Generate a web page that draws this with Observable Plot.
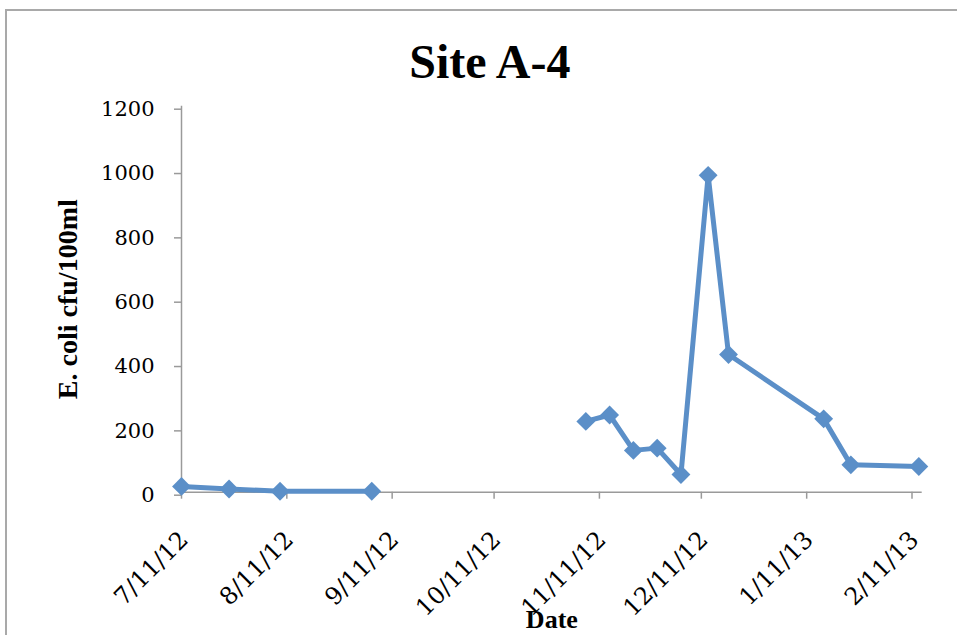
<!DOCTYPE html>
<html><head><meta charset="utf-8">
<script src="https://cdn.jsdelivr.net/npm/d3@7"></script>
<script src="https://cdn.jsdelivr.net/npm/@observablehq/plot@0.6"></script>
<style>
body{margin:0;background:#fff;}
#wrap{position:relative;width:957px;height:635px;overflow:hidden;background:#fff;}
#wrap svg{position:absolute;left:0;top:0;}
#frame{position:absolute;left:5px;top:9px;width:1000px;height:700px;border:2px solid #a9a9a9;box-sizing:border-box;pointer-events:none;}
</style></head><body><div id="wrap"></div>
<script>
// Sample dates and E. coli counts (null = no sample, line is broken)
const dates = ["2012-07-11","2012-07-25","2012-08-09","2012-09-05","2012-10-10","2012-11-07","2012-11-14","2012-11-21","2012-11-28","2012-12-05","2012-12-13","2012-12-19","2013-01-16","2013-01-24","2013-02-13"];
const values = [18, 10, 3, 3, null, 220, 240, 130, 137, 55, 985, 428, 228, 85, 80];
const tickDates = ["2012-07-11","2012-08-11","2012-09-11","2012-10-11","2012-11-11","2012-12-11","2013-01-11","2013-02-11"];
const tickLabels = ["7/11/12","8/11/12","9/11/12","10/11/12","11/11/12","12/11/12","1/11/13","2/11/13"];
const yTicks = [0, 200, 400, 600, 800, 1000, 1200];
const title = "Site A-4";
const yTitle = "E. coli cfu/100ml";
const xTitle = "Date";

const parse = d3.utcParse("%Y-%m-%d");
const data = dates.map((d, i) => ({date: parse(d), value: values[i]}));
const ticks = tickDates.map((d, i) => ({date: parse(d), label: tickLabels[i]}));
const x0 = parse("2012-07-11"), x1 = parse("2013-02-14");
const blue = "#5b8fc8";
const axisGray = "#9a9a9a";
const tickFont = "'DejaVu Serif', serif";

const plot = Plot.plot({
  width: 957, height: 635,
  marginLeft: 181, marginRight: 35.3, marginTop: 105.7, marginBottom: 143.3,
  style: {fontFamily: "'Liberation Serif', serif", background: "transparent", overflow: "visible", color: "#000"},
  x: {type: "utc", domain: [x0, x1]},
  y: {domain: [0, 1200]},
  marks: [
    Plot.axisY({ticks: yTicks, tickFormat: d => String(d), tickSize: 7, tickPadding: 20, fontSize: 21, fontFamily: tickFont, stroke: axisGray, strokeWidth: 1.5, fill: "#000", label: null, dy: 3}),
    Plot.axisX({ticks: ticks.map(t => t.date), tickSize: 7, tickFormat: () => "", stroke: axisGray, strokeWidth: 1.5, label: null}),
    Plot.ruleX([x0], {stroke: axisGray, strokeWidth: 1.5}),
    Plot.ruleY([0], {stroke: axisGray, strokeWidth: 1.5}),
    Plot.text(ticks, {x: "date", text: "label", frameAnchor: "bottom", rotate: -45, textAnchor: "end", lineAnchor: "bottom", dx: 8, dy: 49, fontSize: 24, fontFamily: tickFont, fill: "#000"}),
    Plot.line(data, {x: "date", y: "value", stroke: blue, strokeWidth: 5}),
    Plot.dot(data.filter(d => d.value != null), {x: "date", y: "value", symbol: "diamond2", r: 8.5, fill: blue, stroke: null}),
    Plot.text([title], {frameAnchor: "top", textAnchor: "middle", lineAnchor: "middle", dx: -62, dy: -44, fontSize: 48, fontWeight: "bold", fill: "#000"}),
    Plot.text([yTitle], {frameAnchor: "left", textAnchor: "middle", lineAnchor: "middle", dx: -113, rotate: -90, fontSize: 28, fontWeight: "bold", fill: "#000"}),
    Plot.text([xTitle], {frameAnchor: "bottom", textAnchor: "middle", lineAnchor: "middle", dy: 127, fontSize: 26, fontWeight: "bold", fill: "#000"})
  ]
});
const wrap = document.getElementById("wrap");
wrap.appendChild(plot);
const frame = document.createElement("div");
frame.id = "frame";
wrap.appendChild(frame);
</script>
</body></html>
